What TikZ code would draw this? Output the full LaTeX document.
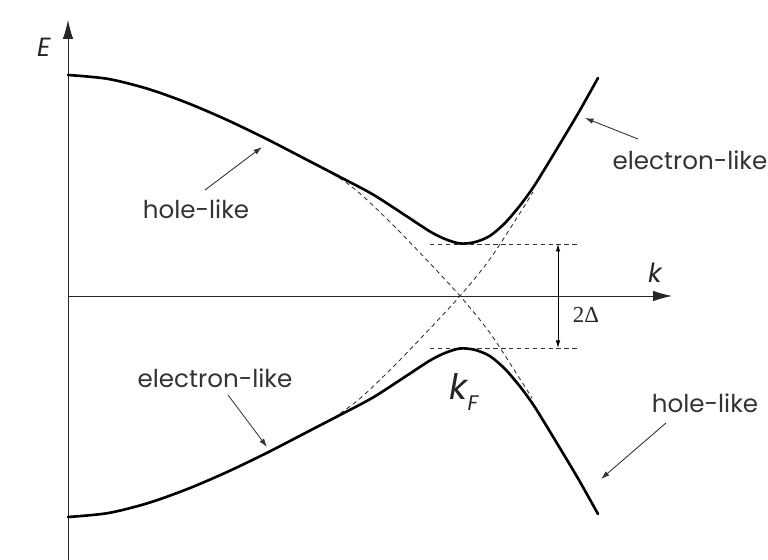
\documentclass[tikz,border=0pt]{standalone}
\usepackage[no-math]{fontspec}
\setmainfont{Poppins}
\newfontfamily\deltafont{Liberation Serif}
\usetikzlibrary{arrows.meta}
\tikzset{
  band/.style  = {line width=1.5pt, line join=round, line cap=round},
  bare/.style  = {line width=0.5pt, dash pattern=on 2.5pt off 2pt, black!80},
  axis/.style  = {-{Latex[length=3.8mm,width=2.1mm]}, line width=0.5pt, black!85},
  note/.style  = {-{Latex[length=1.7mm,width=1.1mm]}, line width=0.5pt, black!80},
  gap/.style   = {{Latex[length=1.5mm,width=0.9mm]}-{Latex[length=1.5mm,width=0.9mm]}, line width=0.5pt},
  lbl/.style   = {font=\fontsize{14}{16}\selectfont, text=black!80, inner sep=0pt},
  sym/.style   = {font=\fontsize{15}{18}\selectfont\itshape, text=black!85, inner sep=0pt},
}
\begin{document}
\begin{tikzpicture}[x=0.02cm,y=0.02cm]
  \useasboundingbox (-460,-264) rectangle (308,296);
  % axes
  \coordinate (O) at (-392,0);
  \coordinate (Ebot) at (-392,-264);
  \coordinate (Etop) at (-392,276);
  \coordinate (ktip) at (212,0);
  \draw[axis] (Ebot) -- (Etop);
  \draw[axis] (O) -- (ktip);
  \node[sym, anchor=base] (Elbl) at (-416,239) {E};
  \node[sym, anchor=base] (klbl) at (195,13) {k};
  \node[sym, font=\fontsize{20}{22}\selectfont\itshape, anchor=base] (kFlbl) at (4,-104)
    {k\raisebox{-0.3em}{\fontsize{12}{14}\selectfont F}};
  % normal-state branches
  \draw[bare] plot[smooth] coordinates {(-392,221) (-352,217.1) (-312,207.1) (-272,192.8)
    (-232,175.6) (-192,156.3) (-152,135.6) (-120,117.5) (-100,102.5) (-70,74) (-37,40) (0,0)
    (30,-37) (60,-83) (72,-102)};
  \draw[bare] plot[smooth] coordinates {(-120,-117.5) (-100,-102.5) (-70,-74) (-37,-40)
    (0,0) (30,37) (60,83) (73,104)};
  % gap
  \coordinate (gapUL) at (-30,52);
  \coordinate (gapUR) at (117,52);
  \coordinate (gapLL) at (-30,-52);
  \coordinate (gapLR) at (117,-52);
  \coordinate (gapT) at (98,52);
  \coordinate (gapB) at (98,-52);
  \draw[bare] (gapUL) -- (gapUR);
  \draw[bare] (gapLL) -- (gapLR);
  \draw[gap] (gapT) -- (gapB);
  \node[font=\fontsize{13}{15}\selectfont\deltafont, text=black!85, inner sep=0pt, anchor=base]
    (gaplbl) at (126,-27) {2Δ};
  % quasiparticle bands
  \draw[band] plot[smooth] coordinates {(-392,221) (-352,217.1) (-312,207.1) (-272,192.8)
    (-232,175.6) (-192,156.3) (-152,135.6) (-120,119) (-87,101.5) (-53,79.5) (-30,64.5)
    (-15,57) (0,52.5) (15,53.9) (30,60.2) (45,73) (60,90.5) (73,108.3) (85,127.5)
    (97,147.3) (118,182.4) (138,218)};
  \draw[band] plot[smooth] coordinates {(-392,-221) (-352,-217.1) (-312,-207.1) (-272,-192.8)
    (-232,-175.6) (-192,-156.3) (-152,-135.6) (-120,-119) (-87,-101.5) (-53,-79.5) (-30,-64.5)
    (-15,-57) (0,-52.5) (15,-53.9) (30,-60.2) (45,-73) (60,-90.5) (73,-108.3) (85,-127.5)
    (97,-147.3) (118,-182.4) (138,-218)};
  % labels
  \node[lbl] (holeUp) at (-264,87) {hole-like};
  \coordinate (holeUpFrom) at (-255,106);
  \coordinate (holeUpTo) at (-198,149);
  \draw[note] (holeUpFrom) -- (holeUpTo);
  \node[lbl] (elecUp) at (230,136) {electron-like};
  \coordinate (elecUpFrom) at (178,157);
  \coordinate (elecUpTo) at (125,178);
  \draw[note] (elecUpFrom) -- (elecUpTo);
  \node[lbl] (elecLow) at (-245,-82) {electron-like};
  \coordinate (elecLowFrom) at (-232,-99);
  \coordinate (elecLowTo) at (-193,-151);
  \draw[note] (elecLowFrom) -- (elecLowTo);
  \node[lbl] (holeLow) at (245,-107) {hole-like};
  \coordinate (holeLowFrom) at (206,-127);
  \coordinate (holeLowTo) at (141,-183);
  \draw[note] (holeLowFrom) -- (holeLowTo);
\end{tikzpicture}
\end{document}
